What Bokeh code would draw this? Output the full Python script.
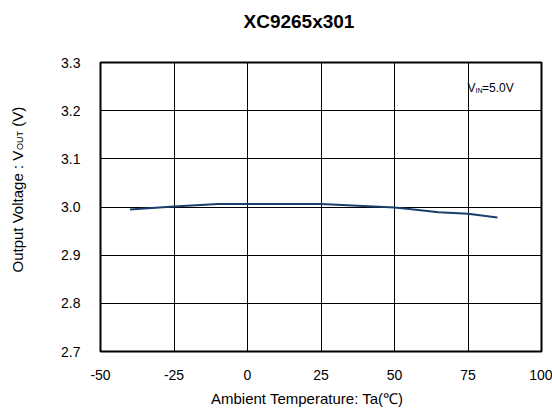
import math
from bokeh.plotting import figure
from bokeh.layouts import row
from bokeh.models import Label, FixedTicker, Range1d, Title
from bokeh.core.properties import value
from bokeh.embed import file_html
from bokeh.resources import INLINE

temps = [-40, -25, -10, 25, 50, 55, 65, 75, 85]
vout = [2.995, 3.001, 3.006, 3.006, 2.999, 2.996, 2.989, 2.986, 2.978]
x_ticks = [-50, -25, 0, 25, 50, 75, 100]
x_tick_labels = ["-50", "-25", "0", "25", "50", "75", "100"]
y_ticks = [2.7, 2.8, 2.9, 3.0, 3.1, 3.2, 3.3]
y_tick_labels = ["2.7", "2.8", "2.9", "3.0", "3.1", "3.2", "3.3"]

FONT = "Liberation Sans"
LEFT_W = 40
H = 412
FRAME_TOP = 62
FRAME_BOTTOM = 351

# ---- narrow left figure carrying the rotated y-axis title ----
# (its frame is aligned with the main chart's frame by the row layout)
pl = figure(width=LEFT_W, height=H, output_backend="svg", toolbar_location=None,
            x_range=Range1d(0, LEFT_W), y_range=Range1d(0, FRAME_BOTTOM - FRAME_TOP),
            x_axis_location=None, y_axis_location=None, title_location=None,
            min_border_left=0, min_border_right=0, min_border_top=0, min_border_bottom=0)
pl.outline_line_color = None
pl.grid.visible = False
pl.border_fill_color = "white"
up = math.pi / 2
for (x, y, t, s) in [(16.7, 272.0, "Output Voltage : V", "15px"),
                     (19.6, 149.4, "OUT", "9px"),
                     (16.7, 126.2, "(V)", "15px")]:
    pl.text(x=[x], y=[FRAME_BOTTOM - y], text=[t], angle=up, text_font=value(FONT),
            text_font_size=value(s), text_align="left", text_baseline="middle",
            text_color="black")

# ---- main chart ----
p = figure(width=552 - LEFT_W, height=H, output_backend="svg", toolbar_location=None,
           x_range=Range1d(-50, 100), y_range=Range1d(2.7, 3.3), title_location=None,
           min_border_left=60, min_border_right=11, min_border_bottom=H - FRAME_BOTTOM,
           min_border_top=FRAME_TOP)

# the trailing empty line reserves space between the title and the frame
p.add_layout(Title(text="XC9265x301\n", align="left", offset=143, vertical_align="top",
                   text_font=FONT, text_font_size="19px", text_font_style="bold",
                   text_color="black", standoff=15), "above")

p.add_layout(Title(text="Ambient Temperature: Ta(\u2103)", align="left", offset=110.5,
                   text_font=FONT, text_font_size="15px", text_font_style="normal",
                   text_color="black", standoff=10), "below")

p.outline_line_color = "black"
p.outline_line_width = 2
p.background_fill_color = "white"
p.border_fill_color = "white"

for ax in (p.xaxis[0], p.yaxis[0]):
    ax.axis_line_color = None
    ax.major_tick_line_color = None
    ax.minor_tick_line_color = None
    ax.major_tick_out = 0
    ax.major_tick_in = 0
    ax.major_label_text_font = FONT
    ax.major_label_text_font_size = "14px"
    ax.major_label_text_color = "black"

p.xaxis.ticker = FixedTicker(ticks=x_ticks)
p.yaxis.ticker = FixedTicker(ticks=y_ticks)
p.xaxis.major_label_overrides = {t: l for t, l in zip(x_ticks, x_tick_labels)}
p.yaxis.major_label_overrides = {t: l for t, l in zip(y_ticks, y_tick_labels)}
p.xaxis.major_label_standoff = 18
p.yaxis.major_label_standoff = 20

p.xgrid.ticker = FixedTicker(ticks=x_ticks)
p.ygrid.ticker = FixedTicker(ticks=y_ticks)
for g in (p.xgrid[0], p.ygrid[0]):
    g.grid_line_color = "black"
    g.grid_line_width = 1

p.line(temps, vout, line_color="#1b3f6b", line_width=2)

def lab(x, y, text, size):
    p.add_layout(Label(x=x, y=y, x_units="screen", y_units="screen", text=text,
                       text_font=FONT, text_font_size=size, text_align="left",
                       text_baseline="middle", text_color="black"))

# V_IN annotation (frame-relative pixels)
lab(367.0, 264.0, "V", "12px")
lab(375.0, 261.0, "IN", "7px")
lab(381.5, 264.0, "=5.0V", "12px")

layout = row(pl, p, spacing=0)
open("out.html", "w").write(file_html(layout, INLINE))
